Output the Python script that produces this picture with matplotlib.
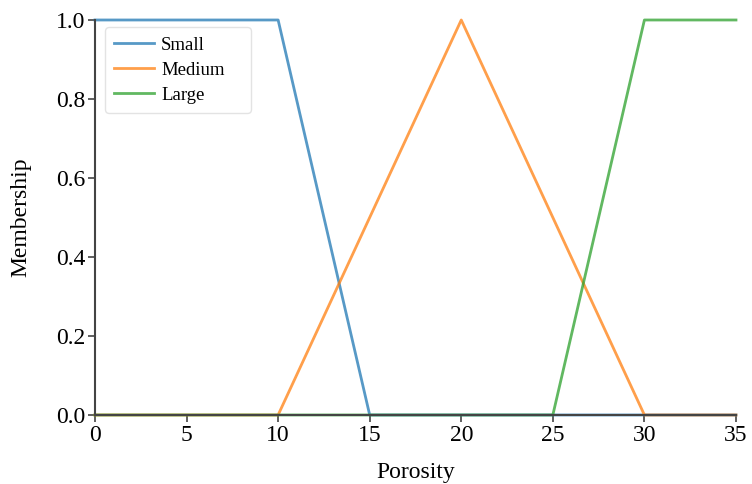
import matplotlib
matplotlib.use("Agg")
import matplotlib.pyplot as plt

x_points = [0, 10, 15, 20, 25, 30, 35]
small = [1, 1, 0, 0, 0, 0, 0]
medium = [0, 0, 0.5, 1, 0.5, 0, 0]
large = [0, 0, 0, 0, 0, 1, 1]
series_names = ["Small", "Medium", "Large"]
colors = ["#1f77b4", "#ff7f0e", "#2ca02c"]
xticks = [0, 5, 10, 15, 20, 25, 30, 35]
yticks = [0.0, 0.2, 0.4, 0.6, 0.8, 1.0]

plt.rcParams['font.family'] = ['Liberation Serif', 'DejaVu Serif']

fig = plt.figure(figsize=(7.52, 4.84), dpi=100)
ax = fig.add_axes([0.1263, 0.1426, 0.8524, 0.8161])
for vals, name, c in zip([small, medium, large], series_names, colors):
    ax.plot(x_points, vals, color=c, alpha=0.75, lw=2, label=name, clip_on=False)

ax.set_xlim(0, 35)
ax.set_ylim(0, 1)
ax.set_xticks(xticks)
ax.set_xticklabels([str(t) for t in xticks])
ax.set_yticks(yticks)
ax.set_yticklabels([f"{t:.1f}" for t in yticks])
for s in ["top", "right"]:
    ax.spines[s].set_visible(False)
for s in ["left", "bottom"]:
    ax.spines[s].set_color("#444444")
    ax.spines[s].set_linewidth(1.5)
ax.tick_params(direction="out", length=5, width=1.2, color="#444444", labelsize=17, pad=2)
ax.set_xlabel("Porosity", fontsize=17, labelpad=12)
ax.set_ylabel("Membership", fontsize=17, labelpad=18)
leg = ax.legend(loc="upper left", bbox_to_anchor=(0.0156, 0.5, 0.2278, 0.482), mode="expand",
                fontsize=13.5, frameon=True, fancybox=True, edgecolor="#dddddd",
                handlelength=2.1, handletextpad=0.4, borderpad=0.5, labelspacing=0.42,
                borderaxespad=0.0)
fig.savefig("out.png", dpi=100)
